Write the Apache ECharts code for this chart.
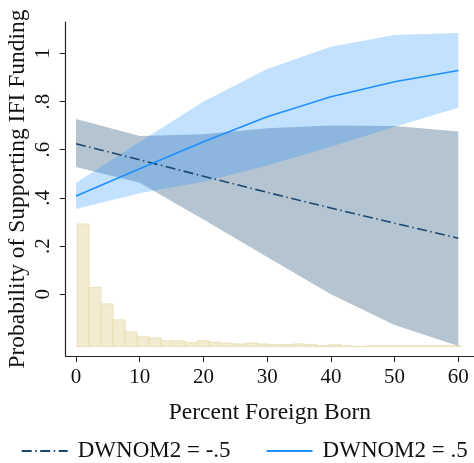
<!DOCTYPE html>
<html>
<head>
<meta charset="utf-8">
<script src="https://cdn.jsdelivr.net/npm/echarts@6/dist/echarts.min.js"></script>
<style>
  html, body { margin: 0; padding: 0; background: #fff; }
  #main { width: 474px; height: 463px; }
</style>
</head>
<body>
<div id="main"></div>
<script>
// predicted probability at each value of percent foreign born
var xPts = [0, 10, 20, 30, 40, 50, 60];
var lowFit = [0.625, 0.558, 0.490, 0.423, 0.358, 0.295, 0.233];
var lowLo = [0.528, 0.463, 0.310, 0.155, 0.000, -0.127, -0.215];
var lowHi = [0.727, 0.657, 0.664, 0.689, 0.700, 0.698, 0.676];
var highFit = [0.408, 0.521, 0.633, 0.737, 0.820, 0.882, 0.929];
var highLo = [0.354, 0.419, 0.467, 0.534, 0.612, 0.695, 0.774];
var highHi = [0.463, 0.632, 0.800, 0.935, 1.027, 1.076, 1.084];

// histogram of percent foreign born (drawn under the curves)
var histBase = -0.217;
var histStart = 0.16;
var histWidth = 1.885;
var histHeights = [0.509, 0.246, 0.177, 0.111, 0.061, 0.041, 0.036, 0.024, 0.024, 0.017,
  0.025, 0.018, 0.014, 0.011, 0.015, 0.011, 0.008, 0.008, 0.011, 0.008,
  0.004, 0.008, 0.003, 0, 0.003, 0.003, 0.003, 0.003, 0.003, 0.003, 0.003, 0.003];

var yTicks = [0, 0.2, 0.4, 0.6, 0.8, 1];
var xTicks = [0, 10, 20, 30, 40, 50, 60];
var names = ['DWNOM2 = -.5', 'DWNOM2 = .5'];

var serif = 'Liberation Serif';

function bandSeries(lo, hi, color) {
  return {
    type: 'custom',
    silent: true,
    data: xPts.map(function (x, i) { return [x, lo[i], hi[i]]; }),
    renderItem: function (params, api) {
      if (params.dataIndex !== 0) return null;
      var pts = [];
      for (var i = 0; i < xPts.length; i++) pts.push(api.coord([xPts[i], hi[i]]));
      for (var j = xPts.length - 1; j >= 0; j--) pts.push(api.coord([xPts[j], lo[j]]));
      return { type: 'polygon', shape: { points: pts }, style: { fill: color } };
    }
  };
}

var histData = histHeights.map(function (h, i) {
  return [histStart + i * histWidth, histStart + (i + 1) * histWidth, h];
});

var myChart = echarts.init(document.getElementById('main'));
var option = {
  animation: false,
  grid: { left: 65.7, top: 22, right: 0, bottom: 107, containLabel: false, outerBoundsMode: 'none' },
  legend: {
    data: names,
    left: 20.7,
    top: 439.5,
    padding: 0,
    itemWidth: 46,
    itemHeight: 14,
    itemGap: 35,
    itemStyle: { opacity: 0 },
    textStyle: { fontFamily: serif, fontSize: 23, color: '#111', padding: [0, 0, 0, 5] }
  },
  xAxis: {
    type: 'value',
    min: -1.62,
    max: 62.46,
    name: 'Percent Foreign Born',
    nameLocation: 'middle',
    nameGap: 45,
    nameMoveOverlap: false,
    nameTextStyle: { fontFamily: serif, fontSize: 23.5, color: '#111' },
    splitLine: { show: false },
    axisLine: { onZero: false, lineStyle: { color: '#222', width: 1.2 } },
    axisTick: { length: 6, customValues: xTicks, lineStyle: { color: '#222' } },
    axisLabel: {
      customValues: xTicks,
      margin: 11,
      fontFamily: serif, fontSize: 21, color: '#111'
    }
  },
  yAxis: {
    type: 'value',
    min: -0.256,
    max: 1.13,
    name: 'Probability of Supporting IFI Funding',
    nameLocation: 'middle',
    nameGap: 36,
    nameMoveOverlap: false,
    nameTextStyle: { fontFamily: serif, fontSize: 23.5, color: '#111' },
    splitLine: { show: false },
    axisLine: { show: true, onZero: false, lineStyle: { color: '#222', width: 1.2 } },
    axisTick: { show: true, length: 6, customValues: yTicks, lineStyle: { color: '#222' } },
    axisLabel: {
      customValues: yTicks,
      rotate: 90,
      margin: 12,
      fontFamily: serif, fontSize: 21, color: '#111',
      formatter: function (v) {
        if (v === 0) return '0';
        if (v === 1) return '1';
        return String(v).replace(/^0/, '');
      }
    }
  },
  series: [
    {
      type: 'custom',
      silent: true,
      data: histData,
      renderItem: function (params, api) {
        var p0 = api.coord([api.value(0), histBase + api.value(2)]);
        var p1 = api.coord([api.value(1), histBase]);
        return {
          type: 'rect',
          shape: { x: p0[0], y: p0[1], width: p1[0] - p0[0], height: p1[1] - p0[1] },
          style: { fill: '#f2ebcf', stroke: '#e8dcb0', lineWidth: 0.8 }
        };
      }
    },
    bandSeries(lowLo, lowHi, 'rgba(26,71,111,0.32)'),
    bandSeries(highLo, highHi, 'rgba(30,144,255,0.27)'),
    {
      name: names[0],
      type: 'line',
      symbol: 'none',
      data: xPts.map(function (x, i) { return [x, lowFit[i]]; }),
      lineStyle: { color: '#1a476f', width: 1.6, type: [10, 3.5, 1.5, 3.5] },
      itemStyle: { color: '#1a476f' }
    },
    {
      name: names[1],
      type: 'line',
      symbol: 'none',
      data: xPts.map(function (x, i) { return [x, highFit[i]]; }),
      lineStyle: { color: '#1e90ff', width: 1.6 },
      itemStyle: { color: '#1e90ff' }
    }
  ]
};
myChart.setOption(option);
</script>
</body>
</html>
